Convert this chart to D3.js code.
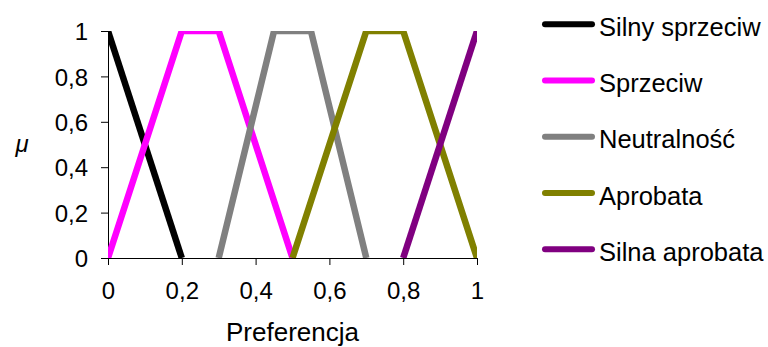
<!DOCTYPE html>
<html>
<head>
<meta charset="utf-8">
<script src="https://cdn.jsdelivr.net/npm/d3@7"></script>
<style>
  body { margin: 0; background: #fff; }
  text { font-family: "Liberation Sans", Arial, sans-serif; fill: #000; }
</style>
</head>
<body>
<div id="wrapper"></div>
<script>
// data
const seriesNames = ["Silny sprzeciw", "Sprzeciw", "Neutralność", "Aprobata", "Silna aprobata"]
const seriesColors = ["#000000", "#ff00ff", "#808080", "#808000", "#800080"]
const silnySprzeciw = [[0, 1], [0.2, 0]]
const sprzeciw = [[0, 0], [0.2, 1], [0.3, 1], [0.5, 0]]
const neutralnosc = [[0.3, 0], [0.45, 1], [0.55, 1], [0.7, 0]]
const aprobata = [[0.5, 0], [0.7, 1], [0.8, 1], [1, 0]]
const silnaAprobata = [[0.8, 0], [1, 1]]
const seriesValues = [silnySprzeciw, sprzeciw, neutralnosc, aprobata, silnaAprobata]
const xTicks = [0, 0.2, 0.4, 0.6, 0.8, 1]
const yTicks = [0, 0.2, 0.4, 0.6, 0.8, 1]

// dimensions
const dimensions = {
  width: 768,
  height: 347,
  margin: { top: 31, right: 291, bottom: 89, left: 108 },
}
dimensions.boundedWidth = dimensions.width - dimensions.margin.left - dimensions.margin.right
dimensions.boundedHeight = dimensions.height - dimensions.margin.top - dimensions.margin.bottom

const svg = d3.select("#wrapper").append("svg")
  .attr("width", dimensions.width)
  .attr("height", dimensions.height)

const bounds = svg.append("g")
  .attr("transform", `translate(${dimensions.margin.left},${dimensions.margin.top})`)

// scales
const xScale = d3.scaleLinear().domain([0, 1]).range([0, dimensions.boundedWidth])
const yScale = d3.scaleLinear().domain([0, 1]).range([dimensions.boundedHeight, 0])

const fmt = d => d3.format("~g")(d).replace(".", ",")

// axes
const yAxis = bounds.append("g")
  .call(d3.axisLeft(yScale).tickValues(yTicks).tickSize(7).tickPadding(13).tickFormat(fmt).tickSizeOuter(0))
yAxis.select(".domain").attr("stroke", "#000")
yAxis.selectAll(".tick line").attr("stroke", "#000")
yAxis.selectAll(".tick text").style("font-size", "24px").attr("dy", "0.36em")

const xAxis = bounds.append("g")
  .attr("transform", `translate(0,${dimensions.boundedHeight})`)
  .call(d3.axisBottom(xScale).tickValues(xTicks).tickSize(7).tickPadding(17).tickFormat(fmt).tickSizeOuter(0))
xAxis.select(".domain").attr("stroke", "#000").attr("d", `M-7,0.5H${dimensions.boundedWidth}`)
xAxis.selectAll(".tick line").attr("stroke", "#000")
xAxis.selectAll(".tick text").style("font-size", "24px")

// clip
bounds.append("clipPath").attr("id", "plot-clip")
  .append("rect")
  .attr("x", 0).attr("y", 0)
  .attr("width", dimensions.boundedWidth)
  .attr("height", dimensions.boundedHeight)

const line = d3.line()
  .x(d => xScale(d[0]))
  .y(d => yScale(d[1]))

bounds.append("g").attr("clip-path", "url(#plot-clip)")
  .selectAll("path")
  .data(seriesValues)
  .join("path")
    .attr("d", line)
    .attr("fill", "none")
    .attr("stroke", (d, i) => seriesColors[i])
    .attr("stroke-width", 6.5)
    .attr("stroke-linejoin", "miter")

// axis labels
svg.append("text")
  .attr("x", dimensions.margin.left + dimensions.boundedWidth / 2)
  .attr("y", 340.5)
  .attr("text-anchor", "middle")
  .style("font-size", "26px")
  .text("Preferencja")

svg.append("text")
  .attr("x", 22)
  .attr("y", 152)
  .attr("text-anchor", "middle")
  .style("font-size", "24px")
  .style("font-style", "italic")
  .text("μ")

// legend
const legend = svg.append("g")
  .selectAll("g")
  .data(seriesNames)
  .join("g")
    .attr("transform", (d, i) => `translate(545,${24.3 + i * 56.25})`)

legend.append("line")
  .attr("x1", 0).attr("x2", 47)
  .attr("stroke", (d, i) => seriesColors[i])
  .attr("stroke-width", 6)
  .attr("stroke-linecap", "round")

legend.append("text")
  .attr("x", 54)
  .attr("y", 11.5)
  .style("font-size", "25.5px")
  .text(d => d)
</script>
</body>
</html>
